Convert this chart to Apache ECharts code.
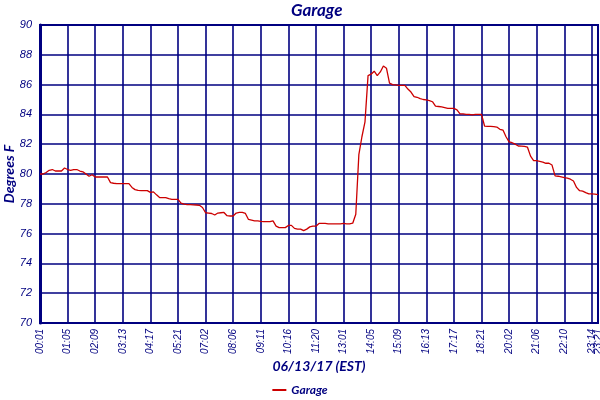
<!DOCTYPE html>
<html>
<head>
<meta charset="utf-8">
<script src="https://cdn.jsdelivr.net/npm/echarts@6/dist/echarts.min.js"></script>
<style>html,body{margin:0;padding:0;background:#fff;}#c{width:600px;height:400px;}</style>
</head>
<body>
<div id="c"></div>
<script>
// Tick labels shown on the x axis (every 9th sample, plus the final sample)
const tickLabels = ['00:01','01:05','02:09','03:13','04:17','05:21','07:02','08:06','09:11','10:16',
  '11:20','13:01','14:05','15:09','16:13','17:17','18:21','20:02','21:06','22:10','23:14','23:21'];
const samplesPerTick = 9;

// Garage temperature (degrees F), one value per sample
const garage = [
  80.0,80.0,80.1,80.25,80.3,80.2,80.2,80.2,80.4,80.3,
  80.25,80.3,80.3,80.2,80.15,80.0,79.85,79.95,79.8,79.8,
  79.8,79.8,79.8,79.42,79.38,79.35,79.35,79.35,79.35,79.35,
  79.1,78.95,78.9,78.88,78.88,78.88,78.77,78.8,78.6,78.42,
  78.42,78.42,78.35,78.3,78.3,78.3,78.05,77.98,77.95,77.95,
  77.93,77.92,77.9,77.75,77.4,77.38,77.35,77.25,77.38,77.4,
  77.42,77.2,77.18,77.18,77.38,77.42,77.42,77.35,76.95,76.9,
  76.85,76.85,76.82,76.8,76.8,76.8,76.85,76.5,76.4,76.4,
  76.4,76.55,76.55,76.35,76.3,76.3,76.2,76.3,76.45,76.5,
  76.5,76.68,76.68,76.68,76.65,76.65,76.65,76.65,76.65,76.68,
  76.65,76.65,76.7,77.3,81.3,82.5,83.5,86.6,86.7,86.9,
  86.6,86.85,87.25,87.1,86.1,86.0,85.98,85.95,85.95,85.95,
  85.7,85.5,85.19,85.15,85.06,85.0,84.97,84.93,84.85,84.55,
  84.53,84.5,84.45,84.4,84.4,84.4,84.3,84.03,84.03,84.0,
  84.0,83.97,84.0,84.0,84.0,83.22,83.2,83.2,83.18,83.15,
  83.0,82.95,82.5,82.16,82.1,82.0,81.88,81.87,81.85,81.8,
  81.2,80.9,80.9,80.85,80.8,80.72,80.72,80.6,79.87,79.85,
  79.8,79.75,79.72,79.65,79.53,79.1,78.88,78.85,78.75,78.66,
  78.66,78.65,78.62
];

const lastIdx = garage.length - 1;
const seriesData = garage.map((v, i) => [i, v]);
// sample index of each labelled tick
const tickIdx = tickLabels.map((t, k) => k === tickLabels.length - 1 ? lastIdx : k * samplesPerTick);
const mainTicks = tickIdx.slice(0, -1);
const endTicks = tickIdx.slice(-1);
const labelFor = (val) => {
  const k = tickIdx.indexOf(Math.round(val));
  return k >= 0 ? tickLabels[k] : '';
};

const navy = '#000080';
const labelStyle = {
  formatter: labelFor,
  rotate: 90,
  color: navy, fontSize: 10, fontStyle: 'italic', fontFamily: 'Liberation Sans',
  margin: 6, hideOverlap: false
};
const chart = echarts.init(document.getElementById('c'), null, {renderer: 'canvas'});
chart.setOption({
  animation: false,
  backgroundColor: '#ffffff',
  title: {
    text: 'Garage',
    left: 286, top: -3,
    textStyle: {color: navy, fontSize: 17, fontStyle: 'italic', fontWeight: 'bold', fontFamily: 'Lato'}
  },
  legend: {
    data: ['Garage'],
    left: 'center', bottom: -1,
    itemWidth: 14, itemHeight: 2,
    icon: 'rect',
    textStyle: {color: navy, fontSize: 12, fontStyle: 'italic', fontWeight: 'bold', fontFamily: 'Lato'}
  },
  grid: {left: 40, right: 2, top: 25, bottom: 77, containLabel: false, outerBoundsMode: 'none',
    show: true, borderColor: navy, borderWidth: 2},
  xAxis: [{
    type: 'value',
    min: 0, max: lastIdx,
    name: '06/13/17 (EST)',
    nameLocation: 'middle',
    nameGap: 36,
    nameMoveOverlap: false,
    nameTextStyle: {color: navy, fontSize: 14, fontStyle: 'italic', fontWeight: 'bold', fontFamily: 'Lato'},
    axisLine: {show: true, lineStyle: {color: navy, width: 2}},
    axisTick: {show: false, customValues: mainTicks},
    axisLabel: Object.assign({customValues: mainTicks, showMinLabel: true, showMaxLabel: true}, labelStyle),
    splitLine: {show: true, lineStyle: {color: navy, width: 1.6}}
  }, {
    type: 'value',
    position: 'bottom',
    min: 0, max: lastIdx,
    axisLine: {show: false},
    axisTick: {show: false, customValues: endTicks},
    axisLabel: Object.assign({customValues: endTicks, showMinLabel: true, showMaxLabel: true}, labelStyle),
    splitLine: {show: false}
  }],
  yAxis: {
    type: 'value',
    min: 70, max: 90, interval: 2,
    name: 'Degrees F',
    nameLocation: 'middle',
    nameGap: 24,
    nameMoveOverlap: false,
    nameTextStyle: {color: navy, fontSize: 14, fontStyle: 'italic', fontWeight: 'bold', fontFamily: 'Lato'},
    axisLine: {show: true, lineStyle: {color: navy, width: 3}},
    axisTick: {show: false},
    axisLabel: {color: navy, fontSize: 11, fontStyle: 'italic', fontFamily: 'Liberation Sans', margin: 8},
    splitLine: {show: true, lineStyle: {color: navy, width: 1.6}}
  },
  series: [{
    name: 'Garage',
    type: 'line',
    xAxisIndex: 0,
    data: seriesData,
    showSymbol: false,
    symbol: 'none',
    color: '#cc0000',
    lineStyle: {color: '#cc0000', width: 1.3}
  }]
});
</script>
</body>
</html>
